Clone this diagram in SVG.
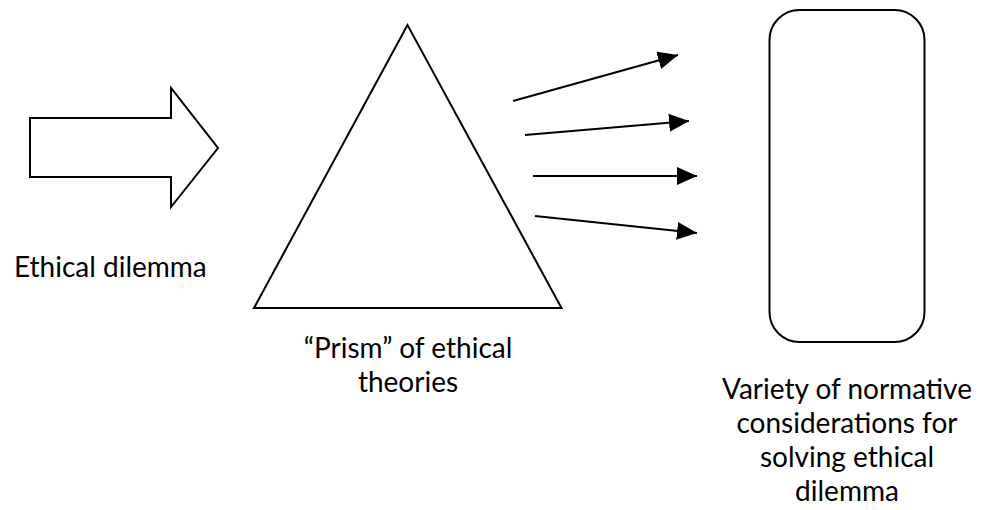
<svg xmlns="http://www.w3.org/2000/svg" width="985" height="510" viewBox="0 0 985 510">
  <style>
    .shape { fill: #ffffff; stroke: #000000; stroke-width: 2; }
    .conn { stroke: #000000; stroke-width: 2; fill: none; }
    .label { font-family: "Lato", "Liberation Sans", sans-serif; font-size: 28px; fill: #000000; }
  </style>
  <defs>
    <marker id="head" markerUnits="userSpaceOnUse" markerWidth="20" markerHeight="18" refX="20" refY="9" orient="auto" viewBox="0 0 20 18">
      <path d="M0,0 L20,9 L0,18 Z" fill="#000000"/>
    </marker>
  </defs>
  <rect width="985" height="510" fill="#ffffff"/>
  <g id="input">
    <polygon class="shape" points="30,118 171,118 171,88 218,148 171,207 171,177 30,177"/>
    <text class="label" x="14" y="277">Ethical dilemma</text>
  </g>
  <g id="prism">
    <polygon class="shape" points="407.5,25 254,308 561.5,308"/>
    <text class="label" x="408" y="358" text-anchor="middle">“Prism” of ethical</text>
    <text class="label" x="408" y="392" text-anchor="middle">theories</text>
  </g>
  <g id="considerations">
    <rect class="shape" x="769.5" y="10" width="155" height="332" rx="30" ry="30"/>
    <text class="label" x="847" y="399" text-anchor="middle">Variety of normative</text>
    <text class="label" x="847" y="433" text-anchor="middle">considerations for</text>
    <text class="label" x="847" y="467" text-anchor="middle">solving ethical</text>
    <text class="label" x="847" y="501" text-anchor="middle">dilemma</text>
  </g>
  <g id="connectors">
    <line class="conn" x1="513" y1="101" x2="678" y2="55" marker-end="url(#head)"/>
    <line class="conn" x1="525" y1="135" x2="689" y2="121" marker-end="url(#head)"/>
    <line class="conn" x1="533" y1="176" x2="697" y2="176" marker-end="url(#head)"/>
    <line class="conn" x1="535" y1="216" x2="697" y2="233" marker-end="url(#head)"/>
  </g>
</svg>
